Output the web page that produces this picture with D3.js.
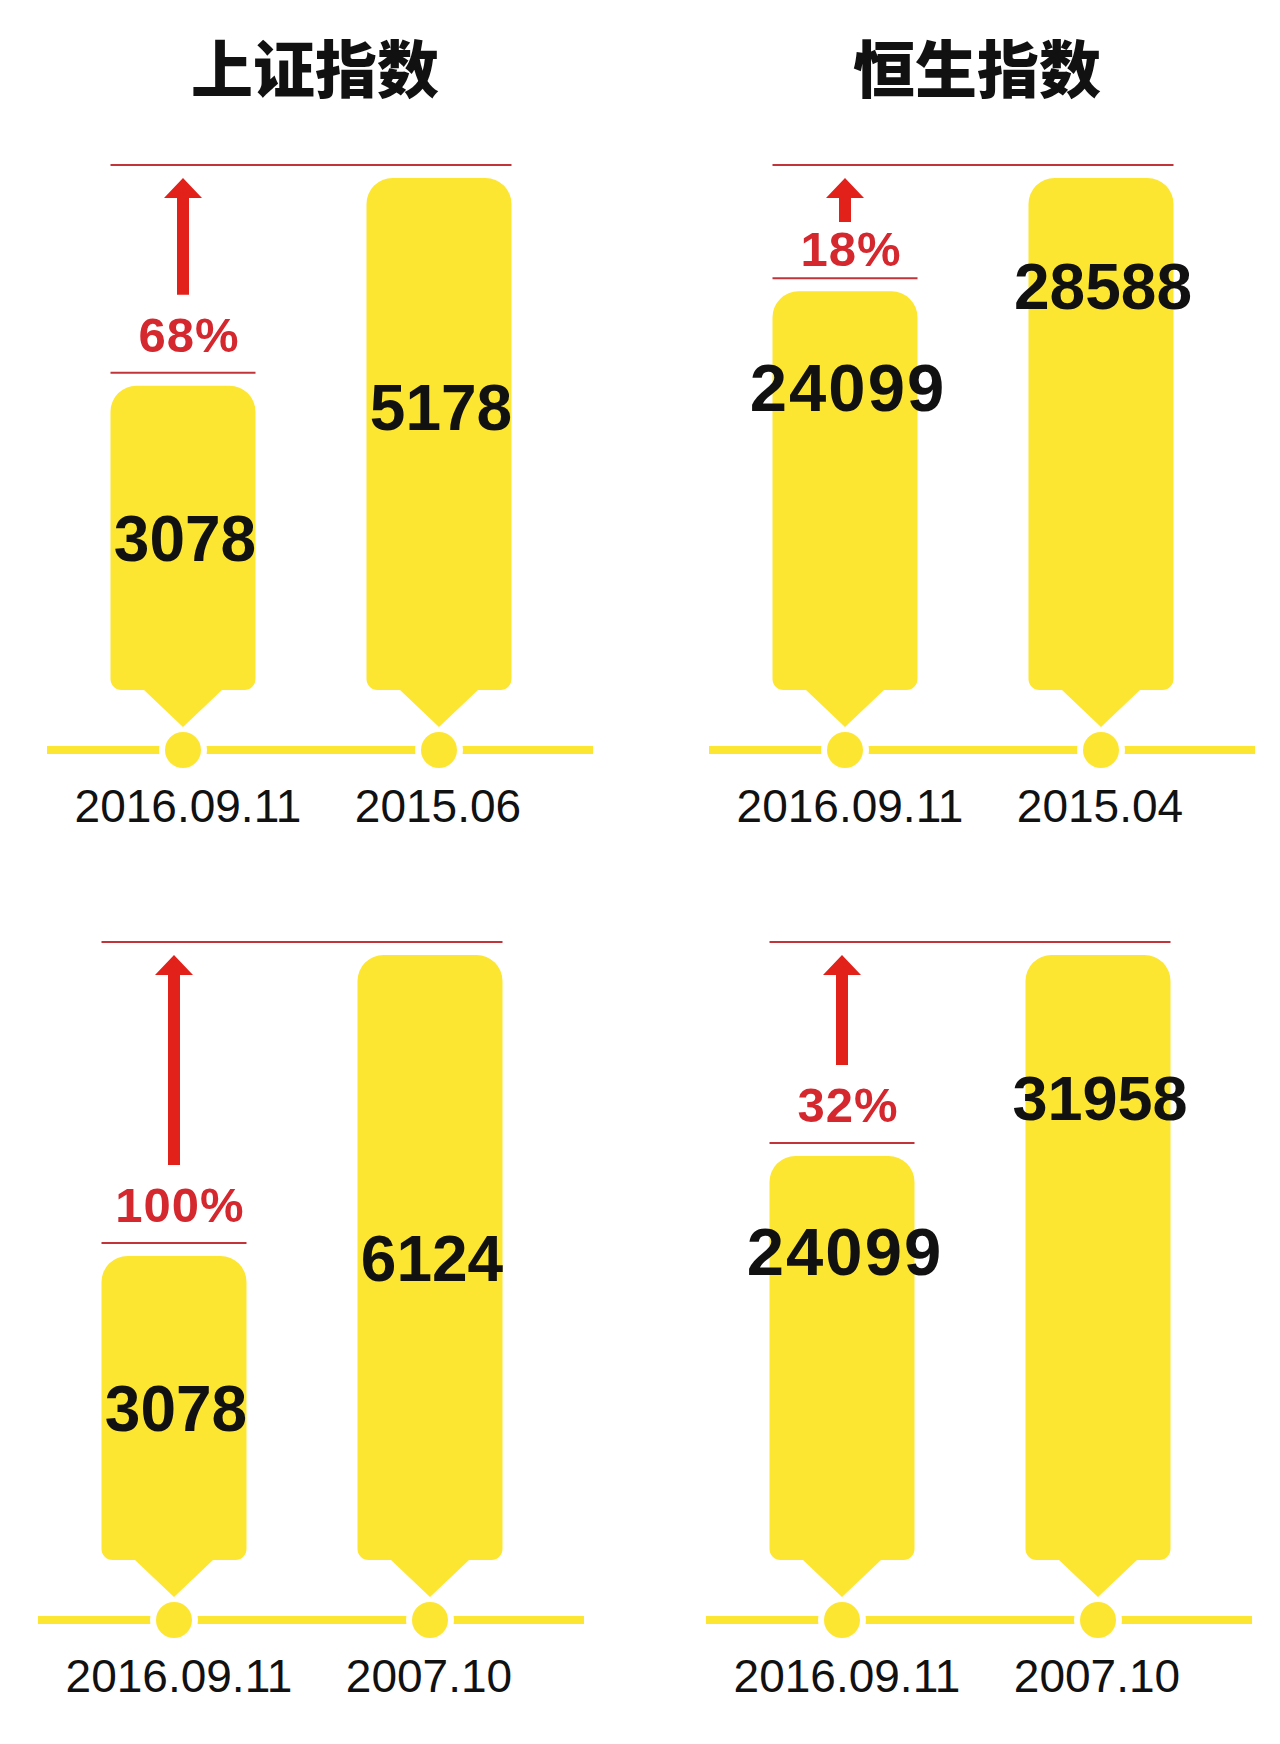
<!DOCTYPE html>
<html>
<head>
<meta charset="utf-8">
<script src="https://cdn.jsdelivr.net/npm/d3@7"></script>
<style>
  html, body { margin: 0; padding: 0; background: #fff; }
  svg { display: block; }
</style>
</head>
<body>
<div class="index-chart"></div>
<script>
// two indexes, each compared against two past peaks
var indexNames = ["上证指数", "恒生指数"];
var indexFloor = [0, 8300]; // hang seng bars are not drawn from zero in the original

// panels in reading order: top-left, top-right, bottom-left, bottom-right
var panelIndex = [0, 1, 0, 1];
var panelDates = [
	["2016.09.11", "2015.06"],
	["2016.09.11", "2015.04"],
	["2016.09.11", "2007.10"],
	["2016.09.11", "2007.10"]
];
var panelValues = [
	[3078, 5178],
	[24099, 28588],
	[3078, 6124],
	[24099, 31958]
];
var gainLabels = ["68%", "18%", "100%", "32%"];

// layout
var width = 1280,
	height = 1744,
	yellow = "#fde631",
	red = "#e3211b";

var panelLeft = [47, 709, 38, 706],
	rowTop = [178, 955],
	rowBase = [690, 1560],
	labelAt = [[0.5, 0.447], [0.24, 0.21], [0.5, 0.5], [0.235, 0.235]],
	labelSpread = [[0, 0], [2, 0], [0, 0], [2, 0]],
	labelSize = [[64, 64], [67, 64], [64, 64], [67, 63]];

var barHalf = 72.5, R = 26, r = 11, tipHalf = 39, tipH = 37;

function barPath(cx, top, base) {
	var l = cx - barHalf, rt = cx + barHalf;
	return "M" + l + "," + (base - r) +
		"L" + l + "," + (top + R) +
		"A" + R + "," + R + " 0 0 1 " + (l + R) + "," + top +
		"L" + (rt - R) + "," + top +
		"A" + R + "," + R + " 0 0 1 " + rt + "," + (top + R) +
		"L" + rt + "," + (base - r) +
		"A" + r + "," + r + " 0 0 1 " + (rt - r) + "," + base +
		"L" + (cx + tipHalf) + "," + base +
		"L" + cx + "," + (base + tipH) +
		"L" + (cx - tipHalf) + "," + base +
		"L" + (l + r) + "," + base +
		"A" + r + "," + r + " 0 0 1 " + l + "," + (base - r) + "Z";
}

var svg = d3.select(".index-chart")
	.append("svg")
	.attr("width", width)
	.attr("height", height);

svg.append("rect")
	.attr("width", width)
	.attr("height", height)
	.attr("fill", "#fff");

// titles
svg.selectAll("text.title")
	.data(indexNames)
	.enter()
	.append("text")
	.attr("class", "title")
	.attr("x", function(d, i) { return panelLeft[i] + 268; })
	.attr("y", 66)
	.attr("text-anchor", "middle")
	.attr("dominant-baseline", "central")
	.style("font-family", "'Noto Sans CJK SC', sans-serif")
	.style("font-weight", 900)
	.style("font-size", "62px")
	.style("fill", "#111")
	.text(function(d) { return d; });

panelValues.forEach(function(vals, i) {
	var col = panelIndex[i],
		row = Math.floor(i / 2),
		base = rowBase[row],
		ox = panelLeft[i];

	var x = d3.scalePoint()
		.domain(panelDates[i])
		.range([ox + 136, ox + 392]);

	var y = d3.scaleLinear()
		.domain([indexFloor[col], d3.max(vals)])
		.range([base, rowTop[row]]);

	var g = svg.append("g");
	var pts = vals.map(function(v, j) {
		return { v: v, date: panelDates[i][j], j: j };
	});

	// timeline
	var lineY = base + 60;
	g.append("line")
		.attr("x1", ox).attr("x2", ox + 546)
		.attr("y1", lineY).attr("y2", lineY)
		.style("stroke", yellow)
		.style("stroke-width", 8);

	g.selectAll("circle.gap")
		.data(pts).enter()
		.append("circle")
		.attr("cx", function(d) { return x(d.date); })
		.attr("cy", lineY)
		.attr("r", 24)
		.attr("fill", "#fff");

	g.selectAll("circle.dot")
		.data(pts).enter()
		.append("circle")
		.attr("cx", function(d) { return x(d.date); })
		.attr("cy", lineY)
		.attr("r", 18)
		.attr("fill", yellow);

	// bars
	g.selectAll("path.bar")
		.data(pts).enter()
		.append("path")
		.attr("d", function(d) { return barPath(x(d.date), y(d.v), base); })
		.attr("fill", yellow);

	// date labels
	g.selectAll("text.date")
		.data(pts).enter()
		.append("text")
		.attr("x", function(d) { return x(d.date) + (d.j === 0 ? 5 : -1); })
		.attr("y", base + 132)
		.attr("text-anchor", "middle")
		.style("font-family", "'Liberation Sans', Arial, Helvetica, sans-serif")
		.style("font-size", "46px")
		.style("fill", "#111")
		.text(function(d) { return d.date; });

	// value labels
	g.selectAll("text.value")
		.data(pts).enter()
		.append("text")
		.attr("x", function(d) { return x(d.date) + 2 + labelSpread[i][d.j] / 2; })
		.attr("y", function(d) {
			var top = y(d.v);
			return top + (base - top) * labelAt[i][d.j] + labelSize[i][d.j] * 0.36;
		})
		.attr("text-anchor", "middle")
		.style("font-family", "'Liberation Sans', Arial, Helvetica, sans-serif")
		.style("font-weight", "bold")
		.style("font-size", function(d) { return labelSize[i][d.j] + "px"; })
		.style("letter-spacing", function(d) { return labelSpread[i][d.j] + "px"; })
		.style("fill", "#111")
		.text(function(d) { return d.v; });

	// gain annotation
	var x1 = x(panelDates[i][0]),
		x2 = x(panelDates[i][1]),
		top = y(vals[1]),
		lowTop = y(vals[0]),
		line2 = lowTop - 13,
		space = line2 - top,
		pctBase = line2 - Math.min(21, space - 88),
		shaftEnd = Math.max(pctBase - 57, top + 44);

	g.append("line")
		.attr("x1", x1 - barHalf).attr("x2", x2 + barHalf)
		.attr("y1", top - 13).attr("y2", top - 13)
		.style("stroke", "#c2343a")
		.style("stroke-width", 2);

	g.append("line")
		.attr("x1", x1 - barHalf).attr("x2", x1 + barHalf)
		.attr("y1", line2).attr("y2", line2)
		.style("stroke", "#c2343a")
		.style("stroke-width", 2);

	g.append("path")
		.attr("d", "M" + x1 + "," + top +
			"L" + (x1 + 19) + "," + (top + 20) +
			"L" + (x1 + 6) + "," + (top + 20) +
			"L" + (x1 + 6) + "," + shaftEnd +
			"L" + (x1 - 6) + "," + shaftEnd +
			"L" + (x1 - 6) + "," + (top + 20) +
			"L" + (x1 - 19) + "," + (top + 20) + "Z")
		.attr("fill", red);

	g.append("text")
		.attr("x", x1 + 6)
		.attr("y", pctBase)
		.attr("text-anchor", "middle")
		.style("font-family", "'Liberation Sans', Arial, Helvetica, sans-serif")
		.style("font-weight", "bold")
		.style("font-size", "49px")
		.style("letter-spacing", "1px")
		.style("fill", "#d4282e")
		.text(gainLabels[i]);
});
</script>
</body>
</html>
